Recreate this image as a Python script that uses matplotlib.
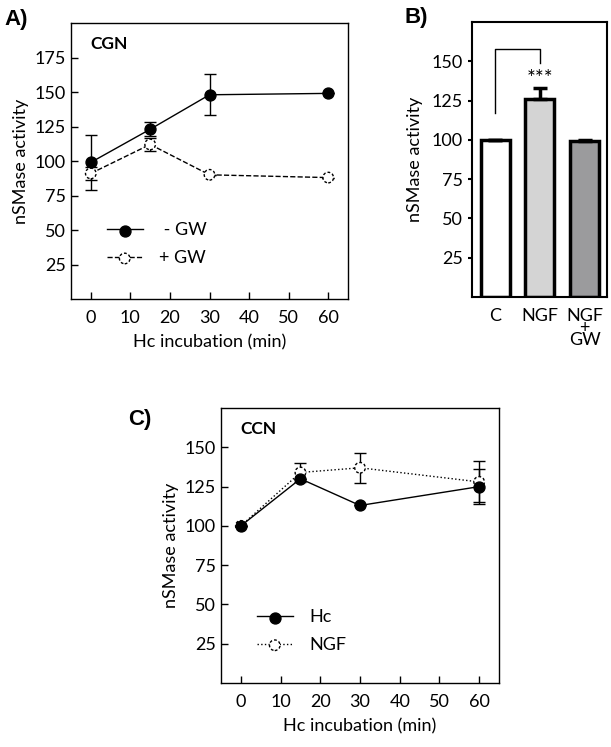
import matplotlib
matplotlib.use('Agg')
import matplotlib.pyplot as plt
from matplotlib.legend_handler import HandlerTuple

plt.rcParams['font.family'] = ['Lato', 'DejaVu Sans']

# --- panel A: CGN, nSMase activity over time ---
a_time = [0, 15, 30, 60]
a_minus_gw = [99, 123, 148, 149]
a_minus_gw_err = [20, 5, 15, 0]
a_plus_gw = [91, 112, 90, 88]
a_plus_gw_err = [5, 5, 0, 0]

# --- panel B: bars ---
b_labels = ['C', 'NGF', 'NGF\n+\nGW']
b_values = [100, 126, 99]
b_err = [0, 7, 1]
b_colors = ['white', '#d4d4d4', '#9b9b9d']

# --- panel C: CCN ---
c_time = [0, 15, 30, 60]
c_hc = [100, 130, 113, 125]
c_hc_err = [0, 0, 0, 11]
c_ngf = [100, 134, 137, 128]
c_ngf_err = [0, 6, 9.5, 13]

fig = plt.figure(figsize=(6.11, 7.47), dpi=100)
ax_a = fig.add_axes([0.1162, 0.5997, 0.4534, 0.3695])
ax_b = fig.add_axes([0.7725, 0.6024, 0.221, 0.368])
ax_c = fig.add_axes([0.3617, 0.0857, 0.455, 0.368])

FS = 13


def line_panel(ax, t, y1, e1, y2, e2, ls2, lab1, lab2, ymax, yticks, title,
               leg_y):
    ax.errorbar(t, y1, yerr=e1, color='black', lw=1, capsize=4, capthick=1,
                zorder=3)
    ax.errorbar(t, y2, yerr=e2, color='black', lw=1, ls=ls2, capsize=4,
                capthick=1, zorder=2)
    h1 = ax.scatter(t, y1, s=62, color='black', zorder=5)
    h2 = ax.scatter(t, y2, s=58, facecolor='white', edgecolor='black',
                    linewidths=1, linestyles=(0, (2, 1.5)), zorder=4)
    l1 = plt.Line2D([], [], color='black', lw=1)
    l2 = plt.Line2D([], [], color='black', lw=1, ls=ls2)
    ax.legend([(l1, h1), (l2, h2)], [lab1, lab2],
              handler_map={tuple: HandlerTuple(ndivide=1, pad=0)},
              scatterpoints=1,
              loc='lower left', bbox_to_anchor=(0.07, leg_y), frameon=False,
              fontsize=FS, handlelength=2.0, handletextpad=0.9,
              labelspacing=0.65)
    ax.set_xlim(-5, 65)
    ax.set_ylim(0, ymax)
    ax.set_xticks([0, 10, 20, 30, 40, 50, 60])
    ax.set_yticks(yticks)
    ax.tick_params(direction='in', length=5, width=1, labelsize=FS)
    ax.tick_params(axis='x', pad=8)
    for sp in ax.spines.values():
        sp.set_linewidth(1)
    ax.set_xlabel('Hc incubation (min)', fontsize=FS, labelpad=6)
    ax.set_ylabel('nSMase activity', fontsize=FS, labelpad=4)
    ax.text(0.07, 0.925, title, transform=ax.transAxes, fontsize=12.5,
            fontweight='bold', va='center')


line_panel(ax_a, a_time, a_minus_gw, a_minus_gw_err, a_plus_gw, a_plus_gw_err,
           '--', ' - GW', '+ GW', 200, [25, 50, 75, 100, 125, 150, 175], 'CGN',
           0.06)
line_panel(ax_c, c_time, c_hc, c_hc_err, c_ngf, c_ngf_err,
           ':', 'Hc', 'NGF', 175, [25, 50, 75, 100, 125, 150], 'CCN', 0.05)

# panel B bars
xb = range(len(b_values))
ax_b.bar(xb, b_values, width=0.65, color=b_colors, edgecolor='black',
         linewidth=2.5, zorder=2)
ax_b.errorbar(xb, b_values, yerr=[[0] * 3, b_err], fmt='none', ecolor='black',
              elinewidth=2.5, capsize=5, capthick=2.5, zorder=3)
ax_b.plot([0, 0, 1, 1], [117, 158, 158, 149], color='black', lw=1)
ax_b.text(1, 139, '***', ha='center', va='center', fontsize=15)
ax_b.set_xlim(-0.52, 2.5)
ax_b.set_ylim(0, 175)
ax_b.set_yticks([25, 50, 75, 100, 125, 150])
ax_b.set_xticks(list(xb))
ax_b.set_xticklabels(b_labels, fontsize=FS, linespacing=0.7, va='top')
ax_b.tick_params(axis='x', length=0, pad=8)
ax_b.tick_params(axis='y', direction='out', length=3, width=1.5, labelsize=FS)
for sp in ax_b.spines.values():
    sp.set_linewidth(1.5)
ax_b.set_ylabel('nSMase activity', fontsize=FS, labelpad=6)

fig.text(0.008, 1 - 19 / 747, 'A)', fontsize=16, fontweight='bold',
         family='Liberation Sans', va='center')
fig.text(405 / 611, 1 - 18 / 747, 'B)', fontsize=16, fontweight='bold',
         family='Liberation Sans', va='center')
fig.text(128 / 611, 1 - 419 / 747, 'C)', fontsize=16, fontweight='bold',
         family='Liberation Sans', va='center')

fig.savefig('out.png', dpi=100)
